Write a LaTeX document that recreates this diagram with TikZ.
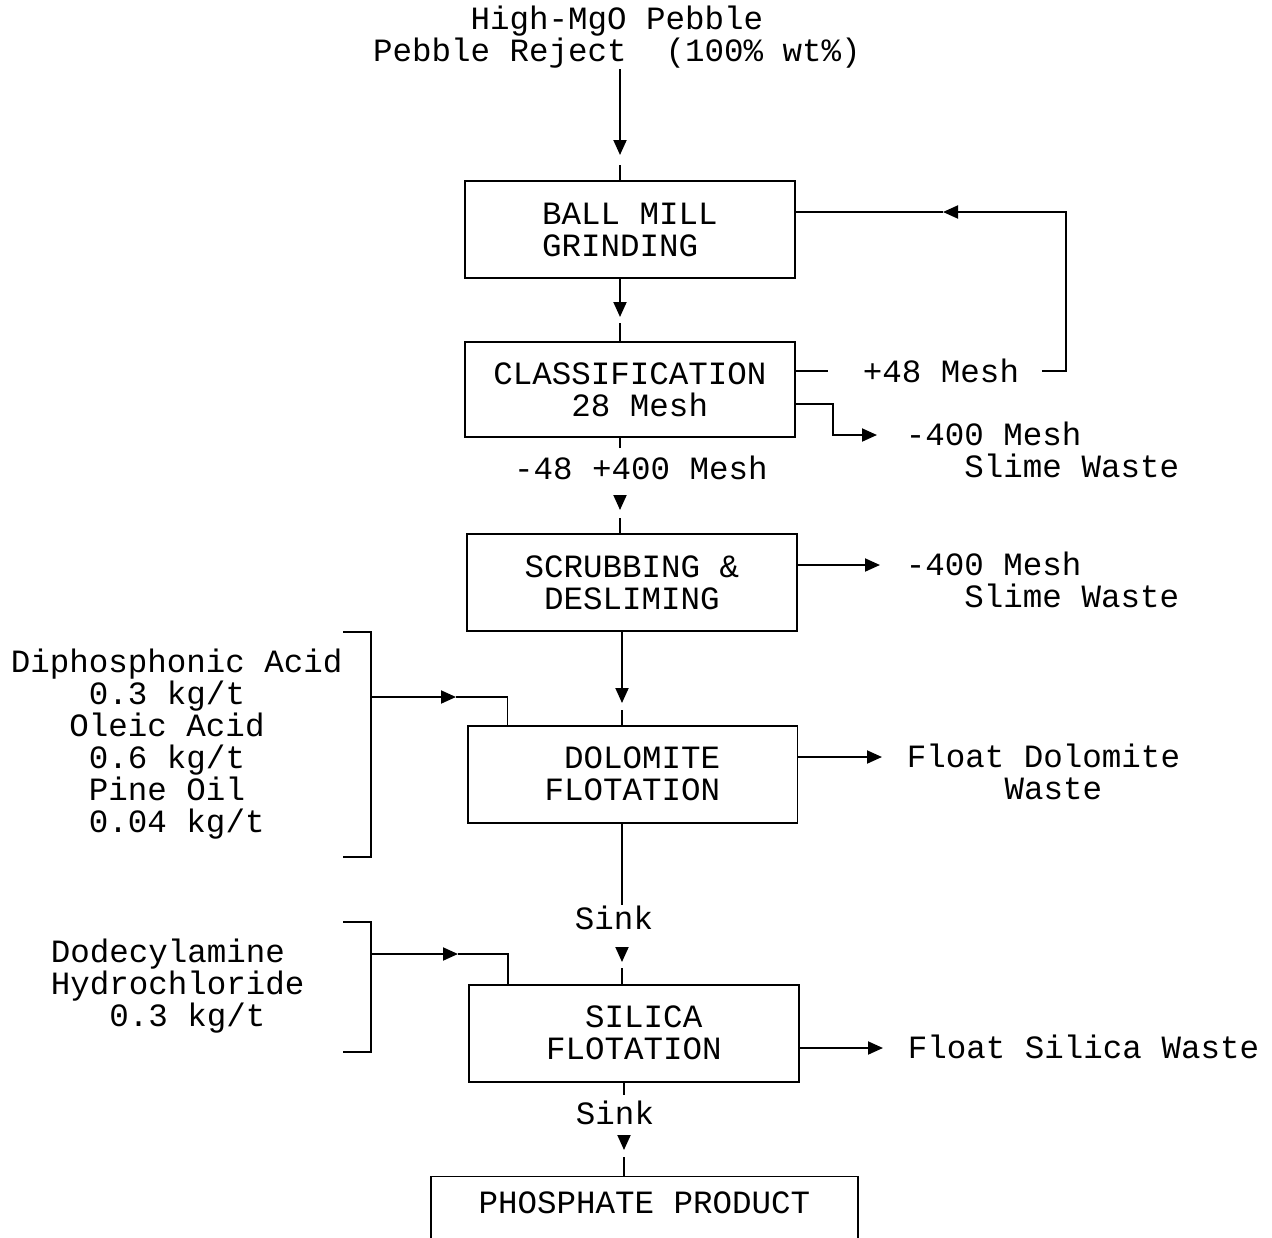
\documentclass[tikz,border=0pt]{standalone}
\usepackage{fontspec}
\setmainfont{Liberation Mono}
\usetikzlibrary{arrows.meta,positioning}

\begin{document}
\begin{tikzpicture}[
    x=0.02cm, y=-0.02cm,
    font=\fontsize{18.5}{18.2}\selectfont,
    line width=1.1pt,
    unitbox/.style={
        rectangle, draw, line width=1.1pt,
        minimum width=6.6cm,
        minimum height=1.94cm,
        align=left,
        inner sep=4pt
    },
    lbl/.style={inner sep=0pt, align=left},
    arr/.style={-{Triangle[length=0.3cm,width=0.26cm]}, line width=1.1pt},
]

\useasboundingbox (0,0) rectangle (1272,1238);

% feed
\node[lbl] (feed) at (617,37) {\ \ \ \ \ High-MgO Pebble\\Pebble Reject\ \ (100\% wt\%)};

% process units
\node[unitbox] (mill) at (630,229.5) {BALL MILL\\GRINDING};
\node[unitbox, minimum height=1.9cm, below=1.24cm of mill] (class) {CLASSIFICATION\\\ \ \ \ 28 Mesh};
\node[unitbox, below=1.9cm of class, xshift=0.04cm] (scrub) {SCRUBBING \&\\\ DESLIMING};
\node[unitbox, below=1.86cm of scrub, xshift=0.01cm] (dolo) {\ DOLOMITE\\FLOTATION};
\node[unitbox, below=3.2cm of dolo, xshift=0.03cm] (silica) {\ \ SILICA\\FLOTATION};
\node[unitbox, below=1.86cm of silica, xshift=0.21cm, minimum width=8.54cm,
      inner ysep=0.2cm, text height=0.54cm, text depth=1.7cm, align=center] (phos) {PHOSPHATE PRODUCT};

% main flow
\coordinate (t1) at (620,155);
\draw[arr] (t1 |- feed.south) -- (t1);
\draw ([yshift=-0.2cm]t1) -- (t1 |- mill.north);

\coordinate (t2) at (620,317);
\draw[arr] (t2 |- mill.south) -- (t2);
\draw ([yshift=-0.12cm]t2) -- (t2 |- class.north);

\node[lbl] (size) at (641,468) {-48 +400 Mesh};
\coordinate (t3) at (620,510);
\draw (t3 |- class.south) -- ([yshift=0.15cm]t3 |- size.north);
\draw[arr] ([yshift=0.3cm]t3) -- (t3);
\draw ([yshift=-0.16cm]t3) -- (t3 |- scrub.north);

\coordinate (t4) at (622,703);
\draw[arr] (t4 |- scrub.south) -- (t4);
\draw ([yshift=-0.14cm]t4) -- (t4 |- dolo.north);

\node[lbl] (sink1) at (614,918) {Sink};
\coordinate (t5) at (622,962);
\draw (t5 |- dolo.south) -- (t5 |- sink1.north);
\draw[arr] ([yshift=0.3cm]t5) -- (t5);
\draw ([yshift=-0.12cm]t5) -- (t5 |- silica.north);

\node[lbl] (sink2) at (615,1113) {Sink};
\coordinate (t6) at (624,1150);
\draw (t6 |- silica.south) -- ([yshift=0.1cm]t6 |- sink2.north);
\draw[arr] ([yshift=0.3cm]t6) -- (t6);
\draw ([yshift=-0.14cm]t6) -- (t6 |- phos.north);

% oversize back to the mill
\node[lbl] (plus48) at (941,371) {+48 Mesh};
\coordinate (rc) at (1066,212);
\coordinate (t7) at (943,212);
\draw (class.east |- plus48) -- ([xshift=-0.68cm]plus48.west);
\draw[arr] ([xshift=0.44cm]plus48.east) -| (rc) -- (t7);
\draw (t7) -- (t7 -| mill.east);

% slimes and floats
\coordinate (t8) at (877,435);
\draw[arr] ([yshift=-0.29cm]class.east) -- ++(37,0) |- (t8);
\node[lbl, anchor=west] (slime1) at (905,450) {-400 Mesh\\\ \ \ Slime Waste};

\coordinate (t9) at (880,565);
\draw[arr] (scrub.east |- t9) -- (t9);
\node[lbl, anchor=west] (slime2) at (905,580) {-400 Mesh\\\ \ \ Slime Waste};

\coordinate (t10) at (882,757);
\draw[arr] (dolo.east |- t10) -- (t10);
\node[lbl, anchor=west] (float1) at (906,772) {Float Dolomite\\\ \ \ \ \ Waste};

\coordinate (t11) at (883,1048);
\draw[arr] (silica.east |- t11) -- (t11);
\node[lbl, anchor=west] (float2) at (907,1047) {Float Silica Waste};

% reagents
\node[lbl, anchor=west] (reag1) at (10,744) {Diphosphonic Acid\\\ \ \ \ 0.3 kg/t\\\ \ \ Oleic Acid\\\ \ \ \ 0.6 kg/t\\\ \ \ \ Pine Oil\\\ \ \ \ 0.04 kg/t};
\draw (343,632) -| (371,857) -- (343,857);
\coordinate (br1) at (371,697);
\coordinate (t12) at (456,697);
\draw[arr] (br1) -- (t12);
\draw (t12) -| ([xshift=-2.5cm]dolo.north);

\node[lbl, anchor=west] (reag2) at (50,986) {Dodecylamine\\Hydrochloride\\\ \ \ 0.3 kg/t};
\draw (343,922) -| (371,1052) -- (343,1052);
\coordinate (br2) at (371,954);
\coordinate (t13) at (458,954);
\draw[arr] (br2) -- (t13);
\draw (t13) -| ([xshift=-2.52cm]silica.north);

\end{tikzpicture}
\end{document}
